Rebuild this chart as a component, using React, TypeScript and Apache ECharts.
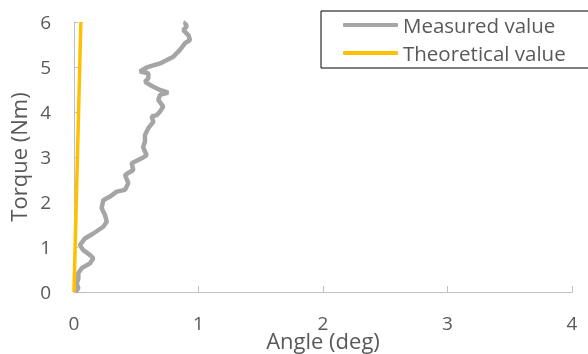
import React, { useEffect, useRef } from "react";
import * as echarts from "echarts";

const measuredAngle = [
  0.01, 0.035, 0.022, 0.035, 0.035, 0.062, 0.129, 0.155, 0.129, 0.075, 0.048, 0.088, 0.155, 0.235, 0.263, 0.249,
  0.222, 0.235, 0.289, 0.343, 0.41, 0.436, 0.41, 0.476, 0.463, 0.544, 0.584, 0.57, 0.555, 0.57, 0.57, 0.597,
  0.637, 0.624, 0.664, 0.691, 0.717, 0.677, 0.691, 0.757, 0.691, 0.637, 0.57, 0.597, 0.597, 0.53, 0.584, 0.691,
  0.798, 0.851, 0.892, 0.932, 0.918, 0.878, 0.905, 0.892, 0.9,
];
const measuredTorque = [
  0.0, 0.08, 0.19, 0.3, 0.42, 0.53, 0.64, 0.75, 0.82, 0.93, 1.04, 1.19, 1.3, 1.45, 1.56, 1.71,
  1.86, 2.04, 2.12, 2.23, 2.27, 2.42, 2.6, 2.71, 2.86, 2.97, 3.04, 3.12, 3.22, 3.34, 3.49, 3.64,
  3.78, 3.9, 3.93, 4.01, 4.12, 4.27, 4.38, 4.43, 4.49, 4.56, 4.67, 4.75, 4.86, 4.9, 4.99, 5.08,
  5.23, 5.38, 5.53, 5.6, 5.71, 5.82, 5.9, 5.98, 6.0,
];
const theoreticalAngle = [0, 0.055];
const theoreticalTorque = [0, 6];

const seriesNames = ["Measured value", "Theoretical value"];
const xTicks = [0, 4, 1];
const yTicks = [0, 6, 1];

export default function App() {
  const ref = useRef<HTMLDivElement>(null);
  useEffect(() => {
    if (!ref.current) return;
    const chart = echarts.init(ref.current, undefined, { renderer: "svg" });
    const font = "'Open Sans', sans-serif";
    const txt = "#595959";
    const axisLine = { show: true, lineStyle: { color: "#BFBFBF", width: 1 } };
    chart.setOption({
      animation: false,
      textStyle: { fontFamily: font },
      grid: { left: 74, right: 16, top: 22, bottom: 62, containLabel: false, outerBoundsMode: "none" },
      legend: {
        orient: "vertical",
        left: 321,
        top: 11,
        padding: [2, 45, 3, 22],
        borderColor: "#000",
        borderWidth: 1,
        itemGap: 4,
        itemWidth: 55,
        itemHeight: 4,
        icon: "roundRect",
        textStyle: { color: txt, fontSize: 20.5, fontFamily: font, lineHeight: 24, padding: [0, 0, 0, 0] },
        data: seriesNames,
      },
      xAxis: {
        type: "value",
        min: xTicks[0],
        max: xTicks[1],
        interval: xTicks[2],
        name: "Angle (deg)",
        nameLocation: "middle",
        nameGap: 37,
        nameMoveOverlap: false,
        nameTextStyle: { color: txt, fontSize: 22, fontFamily: font },
        axisLine,
        axisTick: { show: true, inside: true, length: 6, lineStyle: { color: "#BFBFBF" } },
        splitLine: { show: false },
        axisLabel: { color: txt, fontSize: 19, margin: 21, fontFamily: font },
      },
      yAxis: {
        type: "value",
        min: yTicks[0],
        max: yTicks[1],
        interval: yTicks[2],
        name: "Torque (Nm)",
        nameLocation: "middle",
        nameGap: 45,
        nameTextStyle: { color: txt, fontSize: 22, fontFamily: font },
        axisLine,
        axisTick: { show: true, inside: true, length: 4, lineStyle: { color: "#BFBFBF" } },
        splitLine: { show: false },
        axisLabel: { color: txt, fontSize: 19, margin: 23, fontFamily: font },
      },
      series: [
        {
          name: seriesNames[0],
          type: "line",
          showSymbol: false,
          symbol: "none",
          lineStyle: { color: "#A5A5A5", width: 4.5 },
          itemStyle: { color: "#A5A5A5" },
          data: measuredAngle.map((a, i) => [a, measuredTorque[i]]),
        },
        {
          name: seriesNames[1],
          type: "line",
          showSymbol: false,
          symbol: "none",
          lineStyle: { color: "#FFC000", width: 3.5 },
          itemStyle: { color: "#FFC000" },
          data: theoreticalAngle.map((a, i) => [a, theoreticalTorque[i]]),
        },
      ],
    });
    return () => chart.dispose();
  }, []);
  return <div ref={ref} style={{ position: "fixed", left: 0, top: 0, width: 588, height: 354 }} />;
}
